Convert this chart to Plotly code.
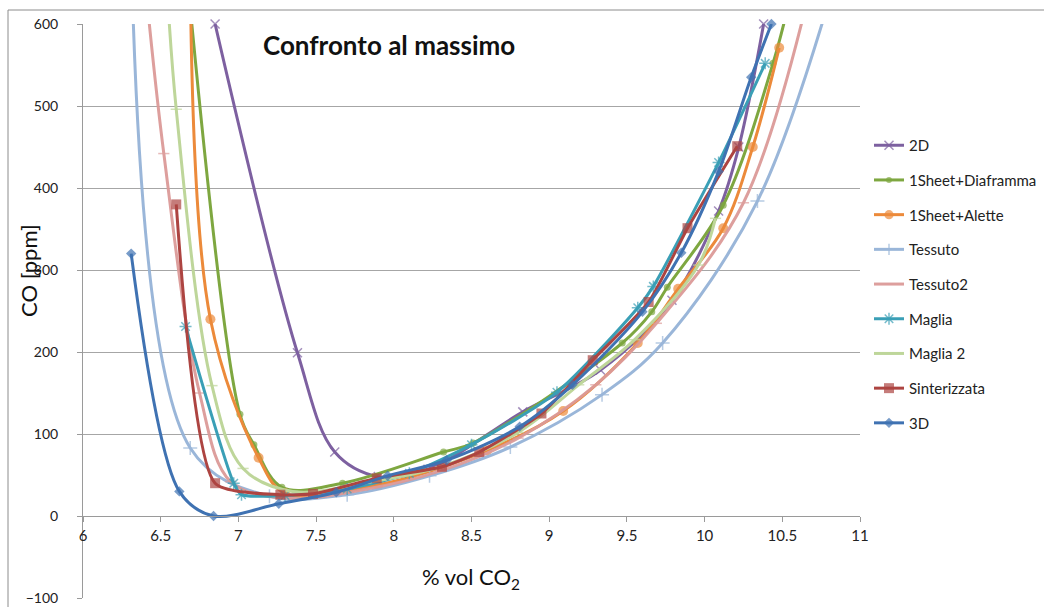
import plotly.graph_objects as go

# Series data: % vol CO2 (x) vs CO [ppm] (y)
x_2d = [6.85, 7.38, 7.62, 7.90, 8.22, 8.83, 9.33, 9.79, 10.09, 10.22, 10.38]
y_2d = [600, 199, 78, 48, 57, 127, 178, 263, 372, 450, 600]

x_diaframma = [6.66, 7.01, 7.10, 7.28, 7.67, 8.32, 8.51, 9.47, 9.66, 9.76, 10.12, 10.44, 10.56]
y_diaframma = [680, 124, 87, 35, 40, 78, 89, 211, 249, 279, 379, 552, 640]

x_alette = [6.69, 6.82, 7.13, 7.30, 7.90, 8.60, 9.09, 9.57, 9.83, 10.12, 10.31, 10.48]
y_alette = [660, 240, 71, 28, 38, 80, 128, 211, 277, 351, 450, 571]

x_tessuto = [6.31, 6.69, 7.20, 7.70, 8.23, 8.75, 9.34, 9.73, 10.34, 10.88]
y_tessuto = [690, 83, 24, 26, 49, 84, 148, 211, 384, 680]

x_tessuto2 = [6.38, 6.52, 6.75, 6.95, 7.30, 7.80, 8.30, 8.80, 9.30, 9.69, 10.25, 10.70]
y_tessuto2 = [690, 442, 150, 42, 22, 32, 55, 95, 160, 235, 382, 660]

x_maglia = [6.66, 6.97, 7.02, 7.30, 7.70, 8.10, 8.50, 9.05, 9.57, 9.67, 10.09, 10.39]
y_maglia = [231, 40, 26, 25, 33, 52, 87, 151, 254, 280, 431, 552]

x_maglia2 = [6.53, 6.60, 6.83, 7.03, 7.35, 7.80, 8.30, 8.80, 9.19, 9.55, 9.96, 10.07]
y_maglia2 = [680, 496, 159, 58, 30, 40, 60, 102, 160, 215, 306, 363]

x_sinter = [6.60, 6.85, 7.27, 7.48, 7.89, 8.31, 8.55, 8.95, 9.28, 9.64, 9.89, 10.21]
y_sinter = [380, 40, 26, 27, 46, 60, 78, 125, 190, 261, 351, 451]

x_3d = [6.31, 6.62, 6.84, 7.26, 7.63, 7.96, 8.34, 8.81, 9.15, 9.60, 9.85, 10.09, 10.30, 10.43]
y_3d = [320, 30, 0, 15, 29, 49, 68, 109, 160, 249, 321, 420, 535, 600]

names = ["2D", "1Sheet+Diaframma", "1Sheet+Alette", "Tessuto", "Tessuto2",
         "Maglia", "Maglia 2", "Sinterizzata", "3D"]

y_ticks = [-100, 0, 100, 200, 300, 400, 500, 600]
x_ticks = [6, 6.5, 7, 7.5, 8, 8.5, 9, 9.5, 10, 10.5, 11]
Y_MAX = 600

# (x, y, colour, marker symbol, marker size, opacity, spline smoothing)
series = [
    (x_2d, y_2d, "#7D60A0", "x-thin", 9, 1.0, 1.0),
    (x_diaframma, y_diaframma, "#7EA740", "circle", 7, 1.0, 1.0),
    (x_alette, y_alette, "#EC8A3A", "circle", 10, 1.0, 1.0),
    (x_tessuto, y_tessuto, "#95B3D7", "cross-thin", 10, 0.95, 1.0),
    (x_tessuto2, y_tessuto2, "#DC9A98", "line-ew", 8, 0.95, 1.0),
    (x_maglia, y_maglia, "#3A9FB6", "asterisk", 10, 1.0, 0.7),
    (x_maglia2, y_maglia2, "#BED69A", "line-ew", 8, 1.0, 1.0),
    (x_sinter, y_sinter, "#AD4441", "square", 10, 1.0, 0.6),
    (x_3d, y_3d, "#3F72B2", "diamond", 8, 1.0, 0.9),
]

fig = go.Figure()
for name, (xs, ys, color, symbol, size, op, smooth) in zip(names, series):
    # markers for points beyond the axis maximum are hidden
    sizes = [size if v <= Y_MAX else 0 for v in ys]
    thin = symbol.endswith("thin") or symbol in ("asterisk", "line-ew")
    fig.add_trace(go.Scatter(
        x=xs, y=ys, name=name, mode="lines+markers",
        line=dict(color=color, width=3, shape="spline", smoothing=smooth),
        marker=dict(symbol=symbol, size=sizes, color=color,
                    line=dict(color=color, width=1.5 if thin else 0)),
        opacity=op, cliponaxis=False, legendgroup=name,
    ))

W, H = 1044, 607
L, R, T, B = 83, 184, 24, 9
pw, ph = W - L - R, H - T - B

def px_x(p):
    return (p - L) / pw

def px_y(p):
    return (H - B - p) / ph

font = "Lato, Open Sans, sans-serif"

fig.update_layout(
    width=W, height=H,
    margin=dict(l=L, r=R, t=T, b=B, autoexpand=False),
    paper_bgcolor="white", plot_bgcolor="white",
    font=dict(family=font, size=15, color="#222222"),
    showlegend=True,
    legend=dict(x=px_x(869), y=px_y(129), xanchor="left", yanchor="top",
                font=dict(size=15, color="#222222"), tracegroupgap=12.2,
                itemwidth=30, bgcolor="rgba(0,0,0,0)"),
    xaxis=dict(range=[6, 11], tickvals=x_ticks, ticktext=[f"{v:g}" for v in x_ticks],
               showgrid=False, zeroline=False, showline=True, linecolor="#9a9a9a",
               linewidth=1, ticks="outside", ticklen=5, tickcolor="#9a9a9a",
               anchor="free", position=px_y(516), tickfont=dict(size=15),
               ticklabelstandoff=1, automargin=False),
    yaxis=dict(range=[-100, 600], tickvals=y_ticks, showgrid=True, gridcolor="#a6a6a6",
               gridwidth=1, zeroline=False, showline=True, linecolor="#9a9a9a",
               ticks="outside", ticklen=5, tickcolor="#9a9a9a",
               tickfont=dict(size=14), ticklabelstandoff=16, automargin=False),
    annotations=[
        dict(text="<b>Confronto al massimo</b>", xref="paper", yref="paper",
             x=px_x(389), y=px_y(45), xanchor="center", yanchor="middle",
             showarrow=False, font=dict(size=26, color="#111111", family=font)),
        dict(text="CO [ppm]", xref="paper", yref="paper", textangle=-90,
             x=px_x(28), y=px_y(270), xanchor="center", yanchor="middle",
             showarrow=False, font=dict(size=22, color="#111111", family=font)),
        dict(text="% vol CO<sub>2</sub>", xref="paper", yref="paper",
             x=px_x(471), y=px_y(578), xanchor="center", yanchor="middle",
             showarrow=False, font=dict(size=22, color="#111111", family=font)),
    ],
    shapes=[
        dict(type="line", xref="paper", yref="paper", x0=px_x(8), x1=px_x(1044),
             y0=px_y(10), y1=px_y(10), line=dict(color="#8c8c8c", width=1)),
        dict(type="line", xref="paper", yref="paper", x0=px_x(8), x1=px_x(8),
             y0=px_y(10), y1=px_y(607), line=dict(color="#8c8c8c", width=1)),
    ],
)

fig.write_html("out.html")
